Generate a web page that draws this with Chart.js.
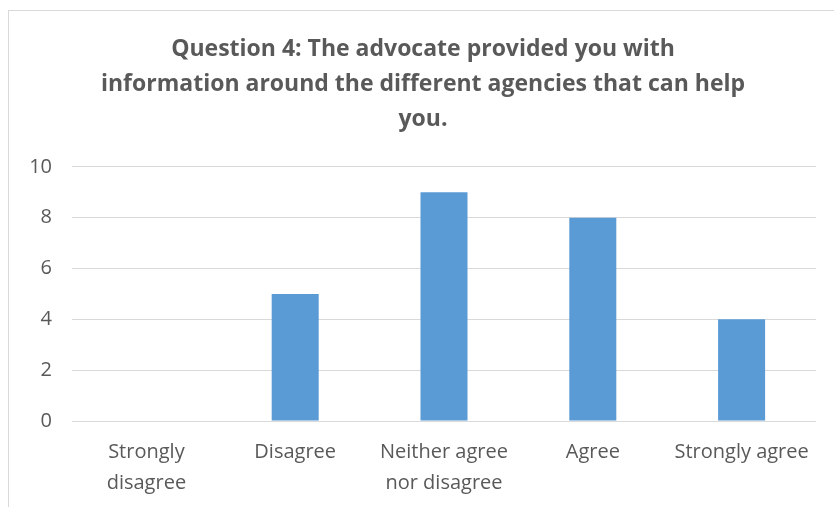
<!DOCTYPE html>
<html>
<head>
<meta charset="utf-8">
<script src="https://cdn.jsdelivr.net/npm/chart.js@4/dist/chart.umd.min.js"></script>
<style>
  html, body { margin: 0; padding: 0; background: #fff; }
  #wrap { position: relative; width: 834px; height: 507px; }
  #frame { position: absolute; left: 8px; top: 10px; right: -2px; bottom: -2px;
           border: 1px solid #d9d9d9; pointer-events: none; }
  canvas { display: block; }
</style>
</head>
<body>
<div id="wrap">
  <canvas id="myChart" width="834" height="507"></canvas>
  <div id="frame"></div>
</div>
<script>
// survey responses for question 4
const categories = [
  ['Strongly', 'disagree'],
  'Disagree',
  ['Neither agree', 'nor disagree'],
  'Agree',
  'Strongly agree'
];
const responses = [0, 5, 9, 8, 4];
const titleLines = [
  'Question 4: The advocate provided you with',
  'information around the different agencies that can help',
  'you.'
];

const grey = '#595959';

const ctx = document.getElementById('myChart');
const chart = new Chart(ctx, {
  type: 'bar',
  data: {
    labels: categories,
    datasets: [{
      label: 'Responses',
      data: responses,
      backgroundColor: '#5b9bd5',
      barPercentage: 0.632,
      categoryPercentage: 0.5
    }]
  },
  options: {
    responsive: false,
    animation: false,
    layout: { padding: { left: 30, right: 18, top: 20, bottom: 8 } },
    plugins: {
      legend: { display: false },
      tooltip: { enabled: false },
      title: {
        display: true,
        text: titleLines,
        color: grey,
        font: { family: 'Open Sans', size: 23, weight: 'bold', lineHeight: 1.52 },
        padding: { top: 12, bottom: 30 }
      }
    },
    scales: {
      x: {
        grid: { display: false, drawTicks: false },
        border: { display: false },
        afterFit(scale) { scale.height = 78; },
        ticks: {
          color: grey,
          font: { family: 'Open Sans', size: 20, lineHeight: 1.55 },
          padding: 16,
          maxRotation: 0,
          autoSkip: false
        }
      },
      y: {
        min: 0,
        max: 10,
        grid: { color: '#d9d9d9', drawTicks: false, lineWidth: 1 },
        border: { display: false },
        afterFit(scale) { scale.width = 42; },
        ticks: {
          stepSize: 2,
          color: grey,
          font: { family: 'Open Sans', size: 20 },
          padding: 20
        }
      }
    }
  }
});
</script>
</body>
</html>
